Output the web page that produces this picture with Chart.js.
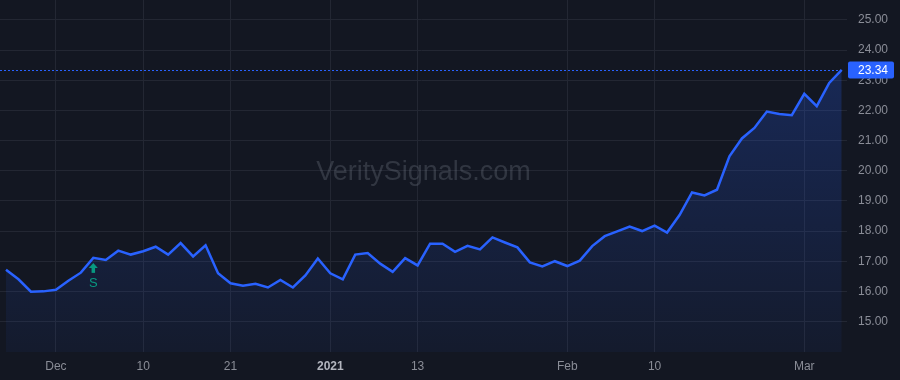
<!DOCTYPE html>
<html>
<head>
<meta charset="utf-8">
<script src="https://cdn.jsdelivr.net/npm/chart.js@4.4.0/dist/chart.umd.min.js"></script>
<style>
  html, body { margin: 0; padding: 0; background: #131722; }
  #wrap { width: 900px; height: 380px; position: relative; }
</style>
</head>
<body>
<div id="wrap"><canvas id="priceChart"></canvas></div>
<script>
const dates = [
  "2020-11-24", "2020-11-25", "2020-11-27", "2020-11-30",
  "2020-12-01", "2020-12-02", "2020-12-03", "2020-12-04", "2020-12-07", "2020-12-08", "2020-12-09", "2020-12-10", "2020-12-11",
  "2020-12-14", "2020-12-15", "2020-12-16", "2020-12-17", "2020-12-18", "2020-12-21", "2020-12-22", "2020-12-23", "2020-12-24",
  "2020-12-28", "2020-12-29", "2020-12-30", "2020-12-31",
  "2021-01-04", "2021-01-05", "2021-01-06", "2021-01-07", "2021-01-08", "2021-01-11", "2021-01-12", "2021-01-13", "2021-01-14",
  "2021-01-15", "2021-01-19", "2021-01-20", "2021-01-21", "2021-01-22", "2021-01-25", "2021-01-26", "2021-01-27", "2021-01-28",
  "2021-01-29",
  "2021-02-01", "2021-02-02", "2021-02-03", "2021-02-04", "2021-02-05", "2021-02-08", "2021-02-09", "2021-02-10", "2021-02-11",
  "2021-02-12", "2021-02-16", "2021-02-17", "2021-02-18", "2021-02-19", "2021-02-22", "2021-02-23", "2021-02-24", "2021-02-25",
  "2021-02-26",
  "2021-03-01", "2021-03-02", "2021-03-03", "2021-03-04"
];

const closes = [
  16.72, 16.40, 15.99, 16.00, 16.05, 16.35, 16.62, 17.11, 17.04, 17.35, 17.22, 17.33, 17.48,
  17.22, 17.60, 17.16, 17.53, 16.60, 16.27, 16.19, 16.25, 16.13, 16.38, 16.13, 16.53, 17.09,
  16.60, 16.40, 17.22, 17.27, 16.92, 16.65, 17.10, 16.86, 17.58, 17.58, 17.31, 17.51, 17.39,
  17.79, 17.62, 17.46, 16.96, 16.83, 17.00, 16.84, 17.02, 17.50, 17.83, 17.99, 18.15, 18.00,
  18.18, 17.95, 18.53, 19.28, 19.18, 19.37, 20.48, 21.07, 21.42, 21.96, 21.88, 21.84, 22.55,
  22.14, 22.91, 23.34
];

const tickDates = ["2020-12-01", "2020-12-10", "2020-12-21", "2021-01-04", "2021-01-13", "2021-02-01", "2021-02-10", "2021-03-01"];
const tickLabels = ["Dec", "10", "21", "2021", "13", "Feb", "10", "Mar"];
const yearLabels = ["2021"];

const priceTicks = [15, 16, 17, 18, 19, 20, 21, 22, 23, 24, 25];

const signals = [{ date: "2020-12-04", label: "S" }];

const watermark = "VeritySignals.com";

const BG = "#131722";
const GRID = "#232733";
const TEXT = "#8a8d97";
const BLUE = "#2962ff";
const GREEN = "#089981";
const FONT = "'Liberation Sans', Arial, sans-serif";

const points = closes.map((v, i) => ({ x: i, y: v }));

const backgroundPlugin = {
  id: "background",
  beforeDraw(chart) {
    const c = chart.ctx;
    c.save();
    c.fillStyle = BG;
    c.fillRect(0, 0, chart.width, chart.height);
    c.restore();
  }
};

const watermarkPlugin = {
  id: "watermark",
  beforeDatasetsDraw(chart) {
    const c = chart.ctx;
    const a = chart.chartArea;
    c.save();
    c.font = "27px " + FONT;
    c.fillStyle = "rgba(120,125,140,0.3)";
    c.textAlign = "center";
    c.textBaseline = "alphabetic";
    c.fillText(watermark, (a.left + a.right) / 2 + 2, 180);
    c.restore();
  }
};

const signalPlugin = {
  id: "signals",
  afterDatasetsDraw(chart) {
    const c = chart.ctx;
    const xs = chart.scales.x, ys = chart.scales.y;
    c.save();
    signals.forEach((s) => {
      const i = dates.indexOf(s.date);
      const x = xs.getPixelForValue(i);
      const y = ys.getPixelForValue(closes[i]) + 5;
      c.fillStyle = GREEN;
      c.beginPath();
      c.moveTo(x, y);
      c.lineTo(x - 4.5, y + 5);
      c.lineTo(x + 4.5, y + 5);
      c.closePath();
      c.fill();
      c.fillRect(x - 1.75, y + 5, 3.5, 5);
      c.font = "13px " + FONT;
      c.textAlign = "center";
      c.textBaseline = "middle";
      c.fillText(s.label, x, y + 20.5);
    });
    c.restore();
  }
};

const lastPricePlugin = {
  id: "lastPrice",
  afterDraw(chart) {
    const c = chart.ctx;
    const a = chart.chartArea;
    const last = closes[closes.length - 1];
    const y = chart.scales.y.getPixelForValue(last);
    c.save();
    c.strokeStyle = BLUE;
    c.lineWidth = 1;
    c.setLineDash([2, 2]);
    c.beginPath();
    c.moveTo(a.left, Math.round(y) + 0.5);
    c.lineTo(a.right, Math.round(y) + 0.5);
    c.stroke();
    c.setLineDash([]);
    c.fillStyle = BLUE;
    c.beginPath();
    c.roundRect(a.right + 5, y - 8.5, 46, 17, 2);
    c.fill();
    c.fillStyle = "#ffffff";
    c.font = "12px " + FONT;
    c.textAlign = "left";
    c.textBaseline = "middle";
    c.fillText(last.toFixed(2), a.right + 15, y + 0.5);
    c.restore();
  }
};

const ctx = document.getElementById("priceChart").getContext("2d");
window.priceChart = new Chart(ctx, {
  type: "line",
  data: {
    datasets: [
      {
        label: "Close",
        data: points,
        borderColor: BLUE,
        borderWidth: 2.5,
        pointRadius: 0,
        tension: 0,
        fill: "start",
        backgroundColor: (context) => {
          const a = context.chart.chartArea;
          if (!a) return "rgba(41,98,255,0.1)";
          const g = context.chart.ctx.createLinearGradient(0, a.top, 0, a.bottom);
          g.addColorStop(0, "rgba(41,98,255,0.28)");
          g.addColorStop(1, "rgba(41,98,255,0.05)");
          return g;
        },
      },
    ],
  },
  options: {
    responsive: true,
    maintainAspectRatio: false,
    animation: false,
    layout: { padding: 0 },
    plugins: {
      legend: { display: false },
      tooltip: { enabled: false },
    },
    scales: {
      x: {
        type: "linear",
        min: -0.481,
        max: 67.104,
        afterFit: (scale) => {
          scale.height = 28;
          scale.paddingLeft = 0;
          scale.paddingRight = 0;
        },
        afterBuildTicks: (scale) => {
          scale.ticks = tickDates.map((d) => ({ value: dates.indexOf(d) }));
        },
        grid: { color: GRID, drawTicks: false },
        border: { display: false },
        ticks: {
          autoSkip: false,
          maxRotation: 0,
          padding: 7,
          color: (c) => (c.tick && yearLabels.includes(c.tick.label) ? "#b2b5be" : TEXT),
          font: (c) => ({
            family: FONT,
            size: 12,
            weight: c.tick && yearLabels.includes(c.tick.label) ? "bold" : "normal",
          }),
          callback: (value) => tickLabels[tickDates.indexOf(dates[value])],
        },
      },
      y: {
        position: "right",
        min: 13.99,
        max: 25.66,
        afterFit: (scale) => {
          scale.width = 57;
          scale.paddingTop = 0;
          scale.paddingBottom = 0;
        },
        afterBuildTicks: (scale) => {
          scale.ticks = priceTicks.map((v) => ({ value: v }));
        },
        grid: { color: GRID, drawTicks: true, tickLength: 4 },
        border: { display: false },
        ticks: {
          padding: 11,
          color: TEXT,
          font: { family: FONT, size: 12 },
          callback: (value) => Number(value).toFixed(2),
        },
      },
    },
  },
  plugins: [backgroundPlugin, watermarkPlugin, signalPlugin, lastPricePlugin],
});
</script>
</body>
</html>
